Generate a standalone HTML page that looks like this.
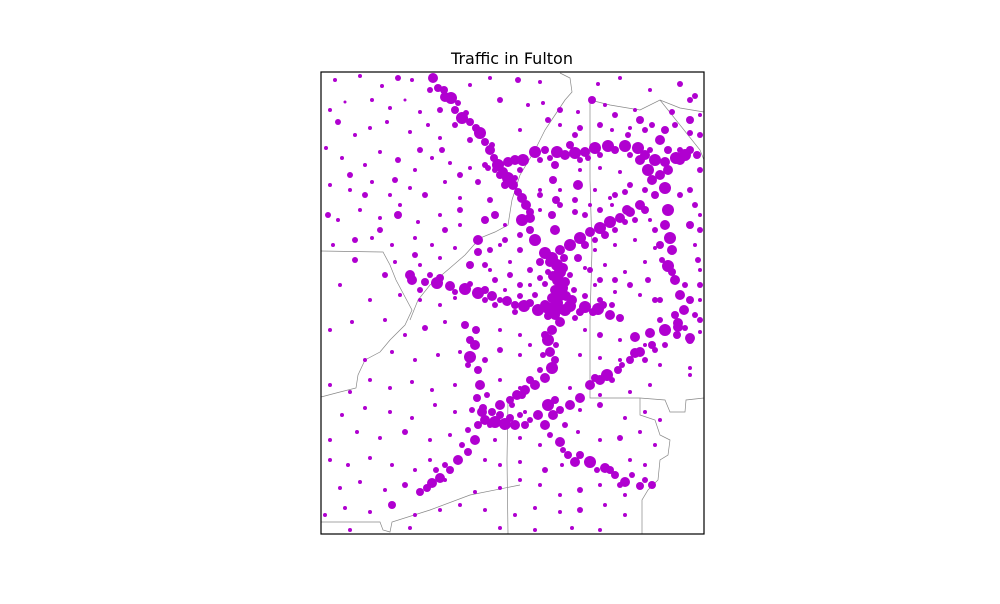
<!DOCTYPE html>
<html><head><meta charset="utf-8">
<style>
html,body{margin:0;padding:0;background:#fff;}
body{width:1000px;height:600px;overflow:hidden;font-family:"DejaVu Sans","Liberation Sans",sans-serif;}
</style></head>
<body>
<svg id="chart" width="1000" height="600">
  <text x="512" y="64" text-anchor="middle" font-size="16" fill="#000" font-family="DejaVu Sans, Liberation Sans, sans-serif">Traffic in Fulton</text>
  <g id="boundaries" fill="none" stroke="#888" stroke-width="0.7">
    <polyline points="321,251 383,252 390,265 396,280 404,295 412,310 405,325 390,340 380,352 365,360 358,375 356,388 340,392 321,397"/>
    <polyline points="321,522 380,522 383,530 390,532 392,522 430,510 470,495 520,485"/>
    <polyline points="560,73 570,78 572,92 565,100 555,115 545,130 535,150 520,175 512,200 508,225 495,232 480,238 465,255 450,268 430,285 418,300 410,320"/>
    <polyline points="590,100 610,105 640,110 660,100 680,108 704,112"/>
    <polyline points="590,100 590,180 592,250 590,320 590,398 640,398 665,400 670,412 685,412 686,400 704,398"/>
    <polyline points="640,398 640,415 655,420 660,435 670,440 668,455 660,460 658,480 648,490 642,500 642,534"/>
    <polyline points="508,400 507,460 508,534"/>
    <polyline points="660,100 700,150 704,160"/>
  </g>
  <g id="points" fill="#b000d0"></g>
  <rect x="321" y="72" width="383" height="462" fill="none" stroke="#000" stroke-width="1.2"/>
</svg>
<script>
// data: [easting, northing, volume-radius] in map grid units
const majorRoadPoints = [
[433,78,5],[438,88,4],[445,97,5],[451,98,6],[455,110,4],[462,118,6],[470,122,4],[480,133,6],[485,142,4],[490,150,5],[494,158,4],[498,165,6],[503,172,5],[508,178,6],[513,185,5],[518,192,4],[522,198,5],[526,205,5],[530,212,4],[522,220,6],
[508,162,5],[515,160,5],[523,160,6],[535,152,6],[545,150,4],[557,152,6],[565,155,5],[575,153,6],[585,152,5],[595,148,6],[608,146,6],[625,146,6],[638,148,6],[645,155,5],[655,160,6],[665,162,5],[676,158,6],[685,155,6],
[640,160,5],[648,170,6],[652,180,5],[660,175,5],[668,170,5],[680,160,5],[690,150,4],[665,188,6],[655,195,4],
[555,165,4],[553,180,4],[556,200,4],[552,215,4],[555,230,5],[545,253,6],[552,258,6],[557,265,6],[560,272,6],[558,280,6],[562,288,6],[560,295,6],[557,303,6],[565,310,6],[555,315,5],[560,322,5],
[560,250,5],[570,245,6],[580,238,6],[590,232,5],[600,228,6],[610,222,6],[620,218,5],[630,212,5],[640,205,5],[578,258,4],
[412,280,5],[425,282,4],[437,283,6],[450,286,5],[465,289,6],[478,293,6],[492,296,5],[507,301,5],[524,306,6],[538,310,6],[548,308,6],[570,306,6],[585,307,6],[598,309,6],[610,315,5],[620,318,4],[635,337,5],[650,333,5],[665,330,6],[678,327,5],[690,338,5],[700,320,3],
[668,210,6],[665,225,5],[670,238,6],[672,250,5],[668,266,6],[675,280,5],[680,295,5],[684,310,5],[678,323,5],[690,340,4],
[552,330,5],[548,340,6],[550,352,5],[552,368,6],[545,378,5],[535,385,5],[525,390,5],[517,395,5],[510,400,4],[500,405,5],[492,412,4],[485,420,5],[495,422,6],[505,424,6],[515,425,5],[525,425,4],
[482,412,5],[478,425,4],[475,440,5],[468,452,4],[458,460,5],[450,470,4],[440,478,5],[432,483,5],[420,492,4],
[548,405,6],[553,415,5],[555,400,4],[538,415,5],[545,425,5],[560,442,5],[568,455,4],[575,462,5],[590,462,6],[605,468,5],[615,475,4],[625,482,5],[640,486,4],[652,485,4],
[570,405,5],[580,398,5],[590,385,5],[600,380,5],[607,375,6],[618,370,4],[630,360,4],[640,352,5],[652,345,4],[635,353,5],
[476,330,4],[475,345,5],[470,357,6],[478,370,4],[480,385,5],[477,398,4],[483,408,4],
[535,240,6],[530,218,5],[478,240,5],[485,220,4],[495,215,4],[578,185,5],[627,210,5],[690,225,4],[697,155,4],[660,140,5],[665,130,4],[470,265,4],[478,252,4],[398,215,4],[410,275,5],[328,215,3],[592,100,4],[640,120,4],[690,120,4]
];
const localRoadPoints = [
[550,262,5],[563,268,5],[553,276,5],[565,282,5],[555,290,5],[566,296,5],[552,298,5],[545,305,5],[572,300,5],[530,303,4],[580,312,4],[556,310,6],[548,316,4],[575,318,3],[593,312,4],[603,305,4],
[540,262,4],[564,258,4],[548,272,3],[545,284,3],[570,275,3],[574,290,3],[585,296,3],[535,295,3],[520,296,3],[515,312,3],[600,300,3],[612,305,3],
[500,175,4],[505,185,4],[515,178,3],[495,170,3],[488,168,3],[520,170,3],[540,160,3],[550,158,3],[570,145,4],[580,160,3],[588,158,3],[600,155,3],[615,150,4],[630,155,3],[650,150,3],[668,150,4],[680,150,3],
[444,90,4],[458,103,3],[466,113,3],[476,128,4],[492,145,3],[430,90,3],[440,110,3],[455,125,3],[470,140,3],[485,165,3],[478,182,3],[490,200,3],
[585,245,4],[595,240,3],[605,235,4],[615,230,3],[625,222,3],[635,220,3],[645,210,4],[655,230,3],[660,245,4],[662,260,3],[672,272,4],[685,285,3],[690,300,4],[695,315,3],[675,315,4],[660,320,3],
[440,278,4],[455,292,3],[470,284,3],[485,290,4],[500,300,3],[515,305,4],[495,305,3],[485,300,3],[420,290,3],[430,275,3],
[545,335,4],[556,345,3],[543,355,3],[555,360,4],[540,370,3],[530,380,4],[522,395,4],[512,405,3],[500,415,4],[490,425,3],[510,418,4],[520,415,3],[530,420,3],
[560,410,4],[565,425,3],[550,435,3],[563,450,3],[580,455,4],[597,470,3],[610,470,4],[620,485,3],[632,475,3],[645,480,3],
[595,378,4],[612,380,3],[622,365,3],[645,360,3],[655,350,3],[665,345,3],[677,335,4],[685,328,3],
[470,340,4],[468,365,3],[485,360,3],[487,395,3],[472,410,3],[468,430,3],[462,445,3],[445,465,3],[427,488,4],[436,470,3],
[530,230,4],[520,235,3],[505,240,3],[490,250,3],[485,265,3],[495,280,3],[510,275,3],[520,285,3],[540,278,3],[590,270,3],[600,280,3],[615,280,3],[630,285,3],[648,280,3],[655,300,3],
[540,195,3],[560,205,3],[575,200,3],[585,215,3],[600,210,3],[615,195,3],[630,185,3],[645,190,3],[680,195,3],[695,205,3],[700,230,3],[698,260,3],[700,285,3],
[600,125,3],[615,115,3],[628,135,3],[645,130,3],[675,125,3],[690,100,3],[700,135,3],[575,135,3],[560,110,3],[548,120,3],
[350,175,3],[365,195,3],[395,180,3],[420,150,3],[442,150,3],[460,175,3],[460,210,3],[445,230,3],[415,255,3],[380,230,3],[355,260,3],[340,285,2],[370,300,2],[385,275,3]
];
const minorRoadPoints = [
[335,80,2],[360,76,2],[382,86,2],[398,78,3],[412,80,2],[470,85,2],[490,78,2],[518,80,3],[540,82,2],[598,84,2],[620,78,2],[650,90,2],[680,84,3],[695,96,3],
[330,110,2],[345,102,1.5],[372,100,2],[390,108,2],[405,100,1.5],[420,112,2],[500,100,3],[528,105,2],[543,103,2],[578,112,2],[605,105,2],[635,110,2],[672,112,3],[700,115,2],
[338,122,3],[355,135,2],[370,128,2],[387,122,2],[410,132,2],[428,125,2],[440,138,2],[520,130,2],[560,125,2],[580,128,3],[612,130,2],[630,128,2],[652,125,3],[690,133,3],
[326,148,2],[342,158,2],[365,165,2],[380,152,2],[398,160,3],[415,170,2],[432,158,2],[450,163,2],[470,168,2],[580,170,2],[600,168,2],[620,172,2],[700,170,3],
[330,185,2],[350,190,2],[372,182,2],[390,195,2],[410,188,2],[425,195,3],[445,182,2],[460,198,2],[540,190,2],[560,190,2],[595,190,2],[610,198,2],[625,192,3],[690,190,3],
[338,220,2],[360,210,2],[380,218,2],[400,205,2],[418,222,2],[440,215,2],[460,225,2],[505,225,2],[540,210,2],[575,212,3],[590,205,2],[612,205,2],[650,220,2],[700,215,2],
[333,245,2],[355,240,3],[372,238,2],[392,245,2],[415,238,2],[432,245,2],[455,248,2],[500,245,2],[520,250,3],[595,250,2],[615,245,2],[635,240,2],[655,248,2],[695,245,2],
[395,262,2],[420,265,2],[440,258,2],[490,270,2],[510,262,2],[530,270,3],[585,268,2],[605,265,2],[625,272,2],[645,262,2],[700,270,2],
[400,295,2],[420,300,2],[440,305,2],[455,298,2],[505,290,2],[530,285,2],[595,285,2],[615,292,2],[640,295,2],[660,300,3],[700,300,2],
[330,330,2],[352,322,2],[385,320,2],[405,335,2],[425,328,3],[445,322,2],[465,325,4],[500,330,2],[520,335,2],[530,345,2],[585,330,2],[600,335,3],[620,340,2],[645,345,2],[700,332,2],
[365,360,2],[392,352,2],[415,360,2],[438,355,2],[460,352,2],[500,350,3],[520,355,2],[580,355,2],[600,358,2],[620,360,2],[660,365,2],[690,368,2],
[330,385,2],[350,392,2],[370,380,2],[390,388,2],[412,382,2],[432,390,2],[455,385,2],[500,380,2],[520,388,2],[570,388,2],[600,395,2],[630,392,2],[650,385,2],[690,375,2],
[342,415,2],[365,408,2],[390,412,2],[412,418,2],[435,405,2],[455,412,2],[525,412,2],[580,410,2],[600,405,3],[625,418,2],[645,412,2],[660,420,2],
[330,440,2],[357,432,2],[380,438,2],[405,432,3],[430,440,2],[450,435,2],[495,440,2],[520,438,2],[540,445,2],[578,432,2],[600,440,2],[620,438,3],[640,432,2],[655,445,2],
[330,460,2],[348,465,2],[370,458,2],[392,465,2],[415,470,2],[430,460,2],[485,460,2],[500,465,2],[520,462,2],[545,470,3],[562,465,2],[630,460,2],[645,465,2],
[340,488,2],[360,482,2],[385,490,2],[405,485,3],[445,480,2],[475,492,2],[500,488,2],[520,480,2],[540,485,2],[560,495,2],[580,490,3],[600,485,2],[625,495,2],
[325,515,2],[345,508,2],[370,512,2],[392,505,4],[415,515,2],[440,510,2],[460,505,2],[485,510,2],[515,515,2],[535,508,2],[560,512,2],[580,510,3],[605,505,2],[625,515,2],
[350,530,2],[410,528,2],[500,528,2],[535,530,2],[572,528,2],[600,530,2]
];
const xDomain = [321, 704], yDomain = [72, 534];
const plotLeft = 321, plotTop = 72, plotW = 383, plotH = 462;
function xScale(v){ return plotLeft + (v - xDomain[0]) / (xDomain[1] - xDomain[0]) * plotW; }
function yScale(v){ return plotTop + (v - yDomain[0]) / (yDomain[1] - yDomain[0]) * plotH; }
const g = document.getElementById('points');
const NS = 'http://www.w3.org/2000/svg';
[minorRoadPoints, localRoadPoints, majorRoadPoints].forEach(function(arr){
  arr.forEach(function(p){
    const c = document.createElementNS(NS, 'circle');
    c.setAttribute('cx', xScale(p[0]));
    c.setAttribute('cy', yScale(p[1]));
    c.setAttribute('r', p[2]);
    
    
    g.appendChild(c);
  });
});
</script>
</body></html>
